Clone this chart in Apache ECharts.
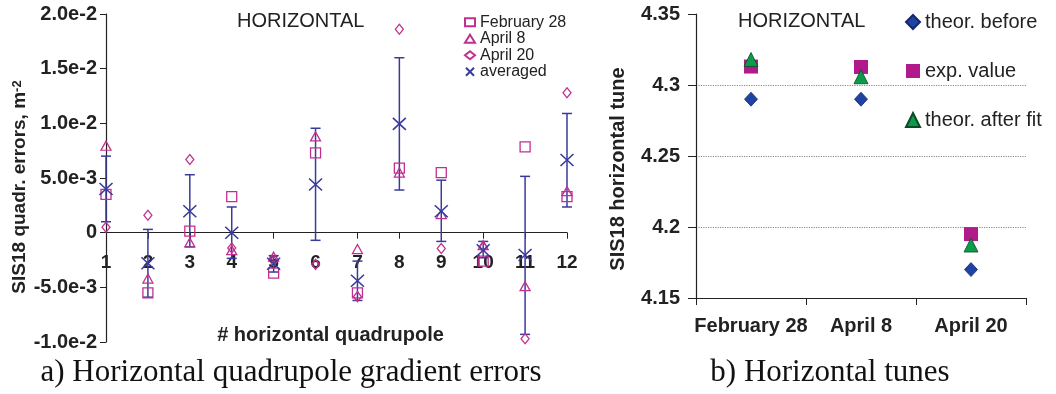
<!DOCTYPE html>
<html><head><meta charset="utf-8">
<script src="https://cdn.jsdelivr.net/npm/echarts@6/dist/echarts.min.js"></script>
<style>html,body{margin:0;padding:0;background:#fff}#c{width:1056px;height:394px}</style>
</head><body><div id="c"></div>
<script>
// ---- left chart data (quadrupole gradient errors, m^-2) ----
const quads   = [1,2,3,4,5,6,7,8,9,10,11,12];
const feb28   = [3.5e-3,-5.5e-3,0.15e-3,3.3e-3,-3.7e-3,7.3e-3,-5.5e-3,5.9e-3,5.5e-3,-2.6e-3,7.85e-3,3.3e-3];
const apr8    = [7.95e-3,-4.2e-3,-0.9e-3,-1.6e-3,-2.2e-3,8.8e-3,-1.5e-3,5.5e-3,1.7e-3,-1.15e-3,-4.9e-3,3.8e-3];
const apr20   = [0.5e-3,1.6e-3,6.7e-3,-1.4e-3,-2.6e-3,-2.9e-3,-5.85e-3,18.6e-3,-1.45e-3,-1.3e-3,-9.7e-3,12.8e-3];
const averaged= [4.0e-3,-2.8e-3,1.95e-3,0.0,-2.85e-3,4.4e-3,-4.4e-3,9.95e-3,1.95e-3,-1.6e-3,-2.05e-3,6.65e-3];
const errLow  = [1.0e-3,-5.9e-3,-1.3e-3,-2.35e-3,-3.6e-3,-0.7e-3,-6.2e-3,3.9e-3,-0.8e-3,-2.3e-3,-9.3e-3,2.35e-3];
const errHigh = [7.0e-3,0.3e-3,5.3e-3,2.35e-3,-2.1e-3,9.55e-3,-2.6e-3,16.0e-3,4.8e-3,-0.8e-3,5.15e-3,10.9e-3];
const leftTickLabels = ['-1.0e-2','-5.0e-3','0','5.0e-3','1.0e-2','1.5e-2','2.0e-2'];
const leftLegend = ['February 28','April 8','April 20','averaged'];

// ---- right chart data (horizontal tunes) ----
const dates        = ['February 28','April 8','April 20'];
const theorBefore  = [4.29, 4.29, 4.17];
const expValue     = [4.313, 4.3127, 4.195];
const theorAfter   = [4.318, 4.3058, 4.1873];
const rightTickLabels = ['4.15','4.2','4.25','4.3','4.35'];
const rightLegend = ['theor. before','exp. value','theor. after fit'];

const FONT = 'Liberation Sans, Arial, sans-serif';
const MAG = '#c2308f';
const BLUE = '#3a3a9c';
const AXC = '#222';

const chart = echarts.init(document.getElementById('c'), null, {renderer:'canvas'});
const LMIN = -0.01, LMAX = 0.02, LINT = 0.005, RMIN = 4.15, RINT = 0.05;
const LTOP = 14, LBOTTOM = 52, H = 394;
// distance (px) from grid bottom up to the zero line of the left chart
const zeroOffset = (H - LTOP - LBOTTOM) * (0 - LMIN) / (LMAX - LMIN);

const option = {
  animation: false,
  backgroundColor: '#fff',
  textStyle: {fontFamily: FONT},
  title: [
    {text:'HORIZONTAL', left:237, top:11, padding:0,
     textStyle:{fontFamily:FONT, fontSize:20, fontWeight:'normal', color:'#222'}},
    {text:'HORIZONTAL', left:738, top:11, padding:0,
     textStyle:{fontFamily:FONT, fontSize:20, fontWeight:'normal', color:'#222'}}
  ],
  legend: [
    {data: leftLegend, orient:'vertical', left:464, top:14, padding:0,
     itemWidth:10, itemHeight:8, itemGap:0,
     textStyle:{fontFamily:FONT, fontSize:16, color:'#222', lineHeight:16.5},
     selectedMode:false},
    {data: rightLegend, orient:'vertical', left:905, top:12, padding:0,
     itemWidth:14, itemHeight:14, itemGap:29,
     textStyle:{fontFamily:FONT, fontSize:20, color:'#222', lineHeight:18},
     selectedMode:false}
  ],
  grid: [
    {left:106, right:489, top:LTOP, bottom:LBOTTOM, containLabel:false, outerBoundsMode:'none'},
    {left:696, right:30, top:14, bottom:96, containLabel:false, outerBoundsMode:'none'}
  ],
  xAxis: [
    {gridIndex:0, type:'value', min:1, max:12, interval:1,
     offset: -zeroOffset,
     name:'# horizontal quadrupole', nameLocation:'middle', nameGap:93,
     nameTextStyle:{fontFamily:FONT, fontSize:20, fontWeight:'bold', color:'#222', padding:[0,12,0,0]},
     axisLine:{onZero:false, lineStyle:{color:AXC, width:1.2}},
     axisTick:{show:true, length:6, lineStyle:{color:AXC}},
     axisLabel:{margin:21, fontFamily:FONT, fontSize:19, fontWeight:'bold', color:'#222',
       formatter:(v)=>String(quads[Math.round(v)-1])},
     splitLine:{show:false}},
    {gridIndex:1, type:'category', data:dates, boundaryGap:true,
     axisLine:{lineStyle:{color:AXC, width:1.2}},
     axisTick:{show:true, length:7, interval:0, lineStyle:{color:AXC}},
     axisLabel:{margin:18, interval:0, fontFamily:FONT, fontSize:20, fontWeight:'bold', color:'#222'},
     splitLine:{show:false}}
  ],
  yAxis: [
    {gridIndex:0, type:'value', min:LMIN, max:LMAX, interval:LINT,
     name:'SIS18 quadr. errors, m{sup|-2}', nameLocation:'middle', nameGap:74,
     nameTextStyle:{fontFamily:FONT, fontSize:19, fontWeight:'bold', color:'#222', padding:[0,18,0,0],
       rich:{sup:{fontFamily:FONT, fontSize:13, fontWeight:'bold', color:'#222', verticalAlign:'top', lineHeight:12}}},
     axisLine:{show:true, onZero:false, lineStyle:{color:AXC, width:1.2}},
     axisTick:{show:true, length:6, lineStyle:{color:AXC}},
     axisLabel:{margin:9, fontFamily:FONT, fontSize:20, fontWeight:'bold', color:'#222',
       formatter:(v)=>leftTickLabels[Math.round((v-LMIN)/LINT)]},
     splitLine:{show:false}},
    {gridIndex:1, type:'value', min:4.15, max:4.35, interval:0.05,
     name:'SIS18 horizontal tune', nameLocation:'middle', nameGap:68,
     nameTextStyle:{fontFamily:FONT, fontSize:20, fontWeight:'bold', color:'#222', padding:[0,26,0,0]},
     axisLine:{show:true, lineStyle:{color:AXC, width:1.2}},
     axisTick:{show:true, length:8, lineStyle:{color:AXC}},
     axisLabel:{margin:16, fontFamily:FONT, fontSize:20, fontWeight:'bold', color:'#222',
       formatter:(v)=>rightTickLabels[Math.round((v-RMIN)/RINT)]},
     splitLine:{show:true, lineStyle:{type:'dotted', width:1.2,
       color:['rgba(0,0,0,0)','#888','#888','#888','rgba(0,0,0,0)']}}}
  ],
  graphic: [
    {type:'text', x:291, y:373, style:{text:'a) Horizontal quadrupole gradient errors',
      font:'31px "Liberation Serif", "Times New Roman", serif', fill:'#111', align:'center', verticalAlign:'middle'}},
    {type:'text', x:830, y:373, style:{text:'b) Horizontal tunes',
      font:'31px "Liberation Serif", "Times New Roman", serif', fill:'#111', align:'center', verticalAlign:'middle'}}
  ],
  series: [
    {type:'custom', name:'errorbars', xAxisIndex:0, yAxisIndex:0, silent:true, z:2,
     data: quads.map((q,i)=>[q, errLow[i], errHigh[i]]),
     encode:{x:0, y:[1,2]},
     renderItem:function(params, api){
       const x = api.value(0);
       const lo = api.coord([x, api.value(1)]);
       const hi = api.coord([x, api.value(2)]);
       const w = 5;
       const st = {stroke:BLUE, lineWidth:1.5};
       return {type:'group', children:[
         {type:'line', shape:{x1:lo[0],y1:lo[1],x2:hi[0],y2:hi[1]}, style:st},
         {type:'line', shape:{x1:lo[0]-w,y1:lo[1],x2:lo[0]+w,y2:lo[1]}, style:st},
         {type:'line', shape:{x1:hi[0]-w,y1:hi[1],x2:hi[0]+w,y2:hi[1]}, style:st}
       ]};
     }},
    {type:'scatter', name:'February 28', xAxisIndex:0, yAxisIndex:0, z:3,
     symbol:'rect', symbolSize:10, data: quads.map((q,i)=>[q, feb28[i]]),
     itemStyle:{color:'rgba(255,255,255,0)', borderColor:MAG, borderWidth:1.3, opacity:1}},
    {type:'scatter', name:'April 8', xAxisIndex:0, yAxisIndex:0, z:3,
     symbol:'triangle', symbolSize:[10,9], data: quads.map((q,i)=>[q, apr8[i]]),
     itemStyle:{color:'rgba(255,255,255,0)', borderColor:MAG, borderWidth:1.3, opacity:1}},
    {type:'scatter', name:'April 20', xAxisIndex:0, yAxisIndex:0, z:3,
     symbol:'diamond', symbolSize:[8,10], data: quads.map((q,i)=>[q, apr20[i]]),
     itemStyle:{color:'rgba(255,255,255,0)', borderColor:MAG, borderWidth:1.3, opacity:1}},
    {type:'scatter', name:'averaged', xAxisIndex:0, yAxisIndex:0, z:4,
     symbol:'path://M0,0L10,10M0,10L10,0', symbolSize:[13,12], symbolKeepAspect:false,
     data: quads.map((q,i)=>[q, averaged[i]]),
     itemStyle:{color:'rgba(0,0,0,0)', borderColor:BLUE, borderWidth:1.5, opacity:1}},
    {type:'scatter', name:'theor. before', xAxisIndex:1, yAxisIndex:1, z:3,
     symbol:'diamond', symbolSize:[13,14], data: theorBefore,
     itemStyle:{color:'#1f43a3', borderColor:'#15286a', borderWidth:0.8, opacity:1}},
    {type:'scatter', name:'exp. value', xAxisIndex:1, yAxisIndex:1, z:3,
     symbol:'rect', symbolSize:14, data: expValue,
     itemStyle:{color:'#b11a8a', opacity:1}},
    {type:'scatter', name:'theor. after fit', xAxisIndex:1, yAxisIndex:1, z:4,
     symbol:'triangle', symbolSize:[14,14], data: theorAfter,
     itemStyle:{color:'#0c9a4b', borderColor:'#0b4a26', borderWidth:0.8, opacity:1}}
  ]
};
chart.setOption(option);
</script>
</body></html>
